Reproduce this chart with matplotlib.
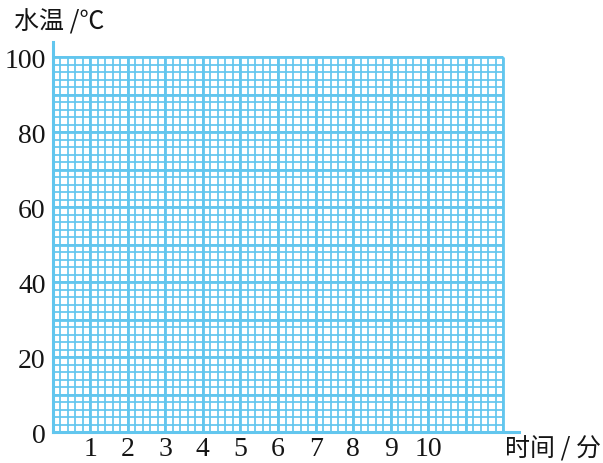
import numpy as np
import matplotlib
matplotlib.use("Agg")
import matplotlib.pyplot as plt

# axis ranges of the graph paper
t_max = 12          # minutes
temp_max = 100      # degrees C
t_minor = 0.2
temp_minor = 2

x_ticks = [1, 2, 3, 4, 5, 6, 7, 8, 9, 10]
y_ticks = [0, 20, 40, 60, 80, 100]

blue = "#62c6ee"
ink = "#151515"

fig = plt.figure(figsize=(6.03, 4.64), dpi=100)
ax = fig.add_axes([0.0871, 0.0668, 0.7728, 0.8405])
ax.set_xlim(0, 12.4)
ax.set_ylim(0, 104)

# minor and major grid lines, drawn only over the paper area
minor_x = np.arange(0, t_max + 1e-9, t_minor)
minor_y = np.arange(0, temp_max + 1e-9, temp_minor)
ax.vlines(minor_x, 0, temp_max, color=blue, lw=1.25, zorder=1)
ax.hlines(minor_y, 0, t_max, color=blue, lw=1.25, zorder=1)
ax.vlines(np.arange(0, t_max + 1), 0, temp_max, color=blue, lw=2.0, zorder=2)
ax.hlines(np.arange(0, temp_max + 1, 10), 0, t_max, color=blue, lw=2.0, zorder=2)

for s in ["top", "right"]:
    ax.spines[s].set_visible(False)
for s in ["left", "bottom"]:
    ax.spines[s].set_color(blue)
    ax.spines[s].set_linewidth(2.2)

ax.set_xticks(x_ticks)
ax.set_yticks(y_ticks)
ax.tick_params(length=0, labelsize=20, colors=ink)
ax.tick_params(axis="x", pad=3)
ax.tick_params(axis="y", pad=5)
for lab in ax.get_xticklabels() + ax.get_yticklabels():
    lab.set_family("Liberation Serif")

cjk = ["Noto Sans CJK SC", "DejaVu Sans"]
fig.text(0.024, 0.951, "水温 /℃", family=cjk, fontsize=18, color=ink,
         weight="medium", ha="left", va="center")
fig.text(0.997, 0.032, "时间 / 分", family=cjk, fontsize=18, color=ink,
         weight="medium", ha="right", va="center")

fig.savefig("out.png", dpi=100)
